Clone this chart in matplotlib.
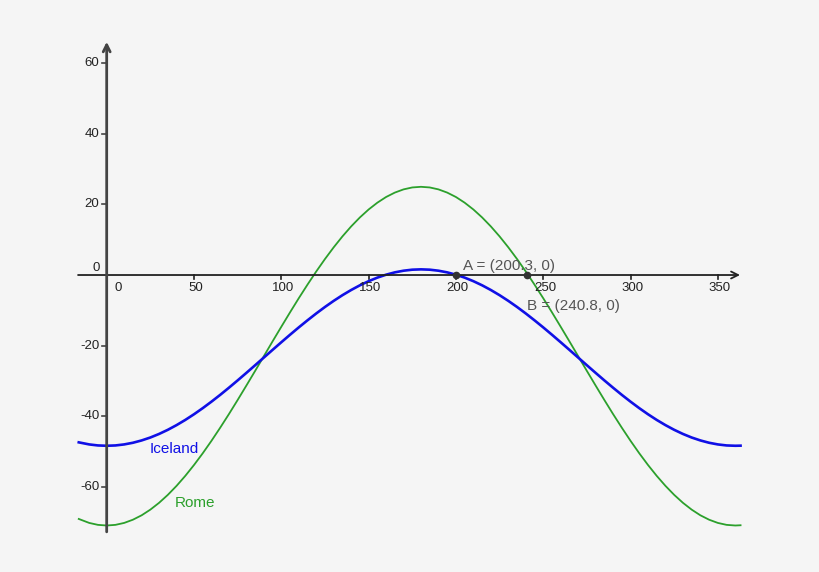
import matplotlib.pyplot as plt

plt.rcParams['font.family'] = ['Liberation Sans', 'DejaVu Sans']

# curve samples (every 5 units along x)
x_vals = [-16, -10, -5] + list(range(0, 365, 5)) + [363]
iceland = [-47.43, -48.02, -48.31,
           -48.4, -48.31, -48.02, -47.55, -46.89, -46.06, -45.05, -43.88, -42.55, -41.08,
           -39.47, -37.74, -35.9, -33.97, -31.95, -29.87, -27.74, -25.58, -23.4, -21.22,
           -19.06, -16.93, -14.85, -12.84, -10.9, -9.06, -7.33, -5.72, -4.25, -2.92,
           -1.75, -0.74, 0.09, 0.75, 1.22, 1.51, 1.6,
           1.51, 1.22, 0.75, 0.09, -0.74, -1.75, -2.92, -4.25, -5.72, -7.33, -9.06,
           -10.9, -12.84, -14.85, -16.93, -19.06, -21.22, -23.4, -25.58, -27.74, -29.87,
           -31.95, -33.97, -35.9, -37.74, -39.47, -41.08, -42.55, -43.88, -45.05, -46.06,
           -46.89, -47.55, -48.02, -48.31, -48.4,
           -48.37]
rome = [-69.14, -70.27, -70.82,
        -71.0, -70.82, -70.27, -69.36, -68.11, -66.5, -64.57, -62.32, -59.77, -56.94,
        -53.85, -50.53, -47.0, -43.28, -39.42, -35.42, -31.33, -27.19, -23.0, -18.81,
        -14.67, -10.58, -6.58, -2.72, 1.0, 4.53, 7.85, 10.94, 13.77, 16.32,
        18.57, 20.5, 22.11, 23.36, 24.27, 24.82, 25.0,
        24.82, 24.27, 23.36, 22.11, 20.5, 18.57, 16.32, 13.77, 10.94, 7.85, 4.53,
        1.0, -2.72, -6.58, -10.58, -14.67, -18.81, -23.0, -27.19, -31.33, -35.42,
        -39.42, -43.28, -47.0, -50.53, -53.85, -56.94, -59.77, -62.32, -64.57, -66.5,
        -68.11, -69.36, -70.27, -70.82, -71.0,
        -70.93]

x_ticks = [50, 100, 150, 200, 250, 300, 350]
y_ticks = [60, 40, 20, -20, -40, -60]
points = {'A': (200.3, 0), 'B': (240.8, 0)}

bg = '#f5f5f5'
axis_col = '#444444'
blue = '#1010e6'
green = '#2ca02c'

fig = plt.figure(figsize=(8.2, 5.72), dpi=100, facecolor=bg)
ax = fig.add_axes([0, 0, 1, 1])
ax.set_facecolor(bg)
ax.set_xlim(-61.1, 408.5)
ax.set_ylim(-84.18, 77.95)
ax.axis('off')

# axes with open arrow heads
ax.annotate('', xy=(362.7, 0), xytext=(-16.4, 0),
            arrowprops=dict(arrowstyle='->,head_length=0.5,head_width=0.25',
                            color='#222222', lw=1.3, shrinkA=0, shrinkB=0))
ax.annotate('', xy=(0, 66.1), xytext=(0, -72.8),
            arrowprops=dict(arrowstyle='->,head_length=0.5,head_width=0.25',
                            color=axis_col, lw=2.0, shrinkA=0, shrinkB=0))

for t in x_ticks:
    ax.plot([t, t], [0, -1.1], color='#222222', lw=1.2)
    ax.text(t + 1.1, -2.0, str(t), ha='center', va='top', fontsize=9.5, color='#222222')
ax.text(6.6, -2.0, '0', ha='center', va='top', fontsize=9.5, color='#222222')

for t in y_ticks:
    ax.plot([-2.7, 0], [t, t], color=axis_col, lw=1.2)
    ax.text(-4.1, t, str(t), ha='right', va='center', fontsize=9.5, color='#222222')
ax.text(-6.1, 1.9, '0', ha='center', va='center', fontsize=9.5, color='#222222')

ax.plot(x_vals, rome, color=green, lw=1.3)
ax.plot(x_vals, iceland, color=blue, lw=1.9)

ax.text(24.8, -50.4, 'Iceland', color=blue, fontsize=11, va='baseline')
ax.text(38.7, -65.8, 'Rome', color=green, fontsize=11, va='baseline')

for name, (px, py) in points.items():
    ax.plot(px, py, 'o', color='#333333', markersize=4.5, zorder=5)
ax.text(203.9, 1.4, 'A = (200.3, 0)', color='#555555', fontsize=11, va='baseline')
ax.text(240.5, -9.9, 'B = (240.8, 0)', color='#555555', fontsize=11, va='baseline')

fig.savefig('out.png', dpi=100, facecolor=bg)
